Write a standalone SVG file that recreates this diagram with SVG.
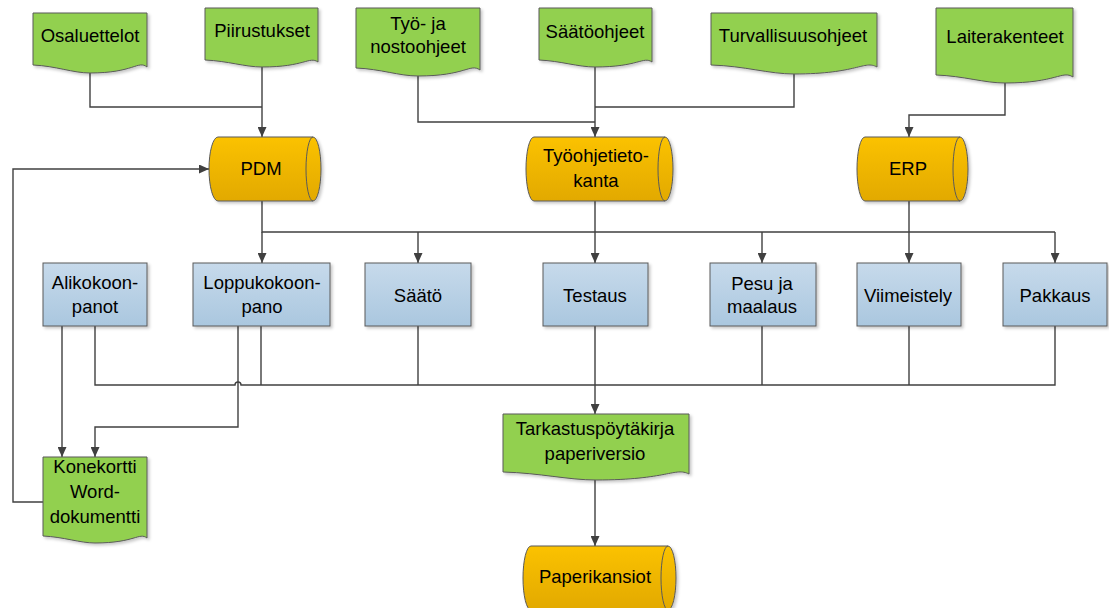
<svg xmlns="http://www.w3.org/2000/svg" width="1109" height="608" viewBox="0 0 1109 608">
  <defs>
    <linearGradient id="gOrange" x1="0" y1="0" x2="0" y2="1">
      <stop offset="0" stop-color="#FBC200"/>
      <stop offset="1" stop-color="#E2A900"/>
    </linearGradient>
    <linearGradient id="gBlue" x1="0" y1="0" x2="0" y2="1">
      <stop offset="0" stop-color="#C7DAEB"/>
      <stop offset="1" stop-color="#AAC7DF"/>
    </linearGradient>
    <filter id="shadow" x="-10%" y="-10%" width="125%" height="130%">
      <feDropShadow dx="2" dy="2" stdDeviation="1.4" flood-color="#000" flood-opacity="0.22"/>
    </filter>
    <marker id="arrow" markerWidth="10" markerHeight="9" refX="10" refY="4.5" orient="auto" markerUnits="userSpaceOnUse">
      <path d="M0,0 L10,4.5 L0,9 Z" fill="#404040"/>
    </marker>
    <style>
      .doc { fill: #92D050; stroke: #5A5A5A; stroke-width: 1; filter: url(#shadow); }
      .db { fill: url(#gOrange); stroke: #5A5A5A; stroke-width: 1; filter: url(#shadow); }
      .dbin { fill: none; stroke: #5A5A5A; stroke-width: 1; }
      .box { fill: url(#gBlue); stroke: #5A5A5A; stroke-width: 1; filter: url(#shadow); }
      .lbl { font-family: "Liberation Sans", Arial, sans-serif; font-size: 18.5px; fill: #000; text-anchor: middle; }
      .conn { fill: none; stroke: #404040; stroke-width: 1.4; }
      .arr { marker-end: url(#arrow); }
    </style>
  </defs>

  <rect width="1109" height="608" fill="#FFFFFF"/>

  <!-- connectors -->
  <g id="connectors">
    <!-- documents into PDM -->
    <path class="conn" d="M90,72 V107 H262"/>
    <path class="conn arr" d="M262,66 V137"/>
    <!-- documents into Työohjetietokanta -->
    <path class="conn" d="M418,75 V122 H595"/>
    <path class="conn" d="M794,73 V107 H595"/>
    <path class="conn arr" d="M595,66 V137"/>
    <!-- Laiterakenteet into ERP -->
    <path class="conn arr" d="M1005,82 V115 H909 V137"/>
    <!-- databases to work phases -->
    <path class="conn" d="M262,201 V232 H1055"/>
    <path class="conn" d="M595,201 V232"/>
    <path class="conn" d="M909,201 V232"/>
    <path class="conn arr" d="M262,232 V263"/>
    <path class="conn arr" d="M418,232 V263"/>
    <path class="conn arr" d="M595,232 V263"/>
    <path class="conn arr" d="M762,232 V263"/>
    <path class="conn arr" d="M909,232 V263"/>
    <path class="conn arr" d="M1055,232 V263"/>
    <!-- feedback from Konekortti to PDM -->
    <path class="conn arr" d="M43,502 H13 V169 H209"/>
    <!-- assembly phases to Konekortti -->
    <path class="conn arr" d="M62,326 V457"/>
    <path class="conn arr" d="M238,326 V427 H95 V457"/>
    <!-- work phases to inspection record (line hop over x=238) -->
    <path class="conn" d="M95,326 V385 H235 A3,3 0 0 1 241,385 H1055 V326"/>
    <path class="conn" d="M261,326 V385"/>
    <path class="conn" d="M418,326 V385"/>
    <path class="conn" d="M762,326 V385"/>
    <path class="conn" d="M909,326 V385"/>
    <path class="conn arr" d="M595,326 V414"/>
    <!-- inspection record to paper folders -->
    <path class="conn arr" d="M595,479 V546"/>
  </g>

  <!-- source documents -->
  <g id="osaluettelot">
    <path class="doc" d="M33,13 H147 V67 C138,60 134,73 90,73 C73,73 56,66 33,65 Z"/>
    <text class="lbl" x="90" y="42">Osaluettelot</text>
  </g>
  <g id="piirustukset">
    <path class="doc" d="M205,8 H318 V62 C309,56 305,67 262,67 C245,67 228,61 205,60 Z"/>
    <text class="lbl" x="262" y="37">Piirustukset</text>
  </g>
  <g id="tyo-ja-nostoohjeet">
    <path class="doc" d="M356,8 H480 V70 C470,63 466,76 418,76 C399,76 381,69 356,68 Z"/>
    <text class="lbl" x="418" y="30">Työ- ja</text>
    <text class="lbl" x="418" y="53">nostoohjeet</text>
  </g>
  <g id="saatoohjeet">
    <path class="doc" d="M539,8 H652 V62 C643,56 639,67 595,67 C578,67 561,61 539,60 Z"/>
    <text class="lbl" x="595" y="38">Säätöohjeet</text>
  </g>
  <g id="turvallisuusohjeet">
    <path class="doc" d="M711,13 H877 V67 C864,60 858,74 794,74 C769,74 745,66 711,65 Z"/>
    <text class="lbl" x="793" y="42">Turvallisuusohjeet</text>
  </g>
  <g id="laiterakenteet">
    <path class="doc" d="M936,8 H1073 V77 C1062,70 1057,83 1005,83 C984,83 964,76 936,75 Z"/>
    <text class="lbl" x="1005" y="43">Laiterakenteet</text>
  </g>

  <!-- databases -->
  <g id="pdm">
    <path class="db" d="M218,137 H313 A8,32 0 0 1 313,201 H218 A9,32 0 0 1 218,137 Z"/>
    <path class="dbin" d="M313,137 A7,32 0 0 0 313,201"/>
    <text class="lbl" x="261" y="175">PDM</text>
  </g>
  <g id="tyoohjetietokanta">
    <path class="db" d="M534,137 H665 A8,32 0 0 1 665,201 H534 A8,32 0 0 1 534,137 Z"/>
    <path class="dbin" d="M665,137 A7,32 0 0 0 665,201"/>
    <text class="lbl" x="596" y="162">Työohjetieto-</text>
    <text class="lbl" x="596" y="187">kanta</text>
  </g>
  <g id="erp">
    <path class="db" d="M865,137 H960 A8,32 0 0 1 960,201 H865 A8,32 0 0 1 865,137 Z"/>
    <path class="dbin" d="M960,137 A7,32 0 0 0 960,201"/>
    <text class="lbl" x="908" y="175">ERP</text>
  </g>

  <!-- work phases -->
  <g id="alikokoonpanot">
    <rect class="box" x="43" y="263" width="104" height="63"/>
    <text class="lbl" x="95" y="289">Alikokoon-</text>
    <text class="lbl" x="95" y="313">panot</text>
  </g>
  <g id="loppukokoonpano">
    <rect class="box" x="193" y="263" width="137" height="63"/>
    <text class="lbl" x="262" y="289">Loppukokoon-</text>
    <text class="lbl" x="262" y="313">pano</text>
  </g>
  <g id="saato">
    <rect class="box" x="365" y="263" width="106" height="63"/>
    <text class="lbl" x="418" y="302">Säätö</text>
  </g>
  <g id="testaus">
    <rect class="box" x="543" y="263" width="105" height="63"/>
    <text class="lbl" x="595" y="302">Testaus</text>
  </g>
  <g id="pesu-ja-maalaus">
    <rect class="box" x="710" y="263" width="106" height="63"/>
    <text class="lbl" x="762" y="290">Pesu ja</text>
    <text class="lbl" x="762" y="313">maalaus</text>
  </g>
  <g id="viimeistely">
    <rect class="box" x="857" y="263" width="104" height="63"/>
    <text class="lbl" x="908" y="302">Viimeistely</text>
  </g>
  <g id="pakkaus">
    <rect class="box" x="1003" y="263" width="104" height="63"/>
    <text class="lbl" x="1055" y="302">Pakkaus</text>
  </g>

  <!-- output documents -->
  <g id="konekortti">
    <path class="doc" d="M43,457 H147 V538 C139,532 135,543 95,543 C80,543 64,537 43,536 Z"/>
    <text class="lbl" x="95" y="473">Konekortti</text>
    <text class="lbl" x="95" y="498">Word-</text>
    <text class="lbl" x="95" y="523">dokumentti</text>
  </g>
  <g id="tarkastuspoytakirja">
    <path class="doc" d="M503,414 H689 V474 C675,467 668,480 596,480 C568,480 540,473 503,472 Z"/>
    <text class="lbl" x="595" y="435">Tarkastuspöytäkirja</text>
    <text class="lbl" x="595" y="460">paperiversio</text>
  </g>
  <g id="paperikansiot">
    <path class="db" d="M531,546 H668 A8,32 0 0 1 668,610 H531 A8,32 0 0 1 531,546 Z"/>
    <path class="dbin" d="M668,546 A7,32 0 0 0 668,610"/>
    <text class="lbl" x="595" y="583">Paperikansiot</text>
  </g>
</svg>
